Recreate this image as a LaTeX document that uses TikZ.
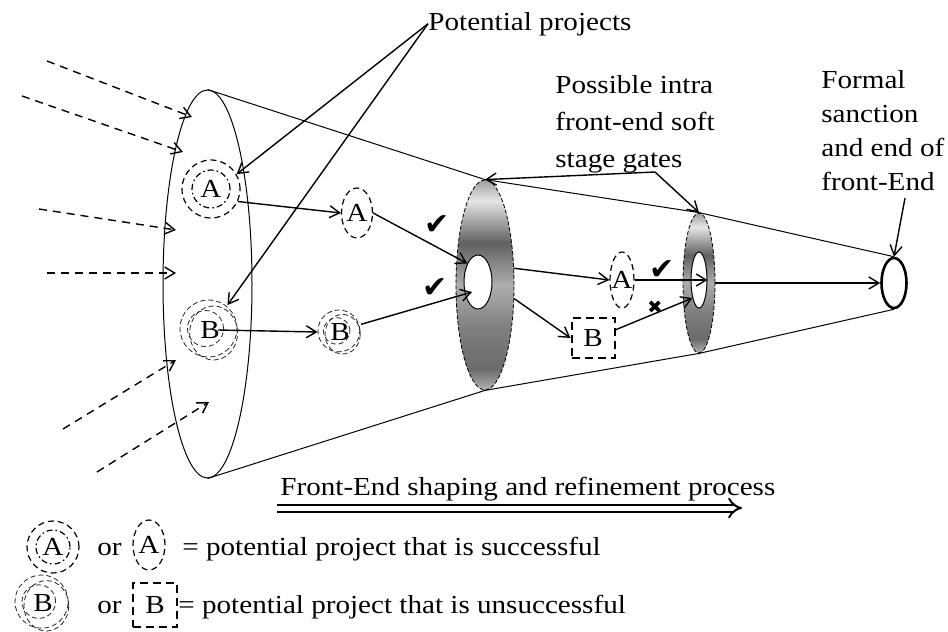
\documentclass[tikz,border=0pt]{standalone}
\usepackage{fontspec}
\setmainfont{Liberation Serif}[FakeStretch=1.12]
\newfontfamily\tickfont{DejaVu Sans}
\usetikzlibrary{arrows.meta, positioning, shapes.geometric, calc}

% shading of the soft stage gates (25bp..75bp is the shaded path)
\pgfdeclareverticalshading{gateshade}{100bp}{color(0bp)=(black!30); color(25bp)=(black!30); color(30bp)=(black!58); color(40bp)=(black!50); color(50bp)=(black!32); color(60bp)=(black!62); color(70bp)=(black!10); color(75bp)=(black!38); color(100bp)=(black!38)}

\begin{document}
\begin{tikzpicture}[x=0.5pt, y=-0.5pt,
  font=\fontsize{13}{17}\selectfont,
  arr/.style={-{Straight Barb[length=5pt,width=6pt]}, line width=0.7pt},
  inarr/.style={arr, dash pattern=on 4pt off 3pt},
  txt/.style={inner sep=0pt, anchor=base west},
  proj/.style={ellipse, draw, line width=0.6pt, inner sep=0pt, dash pattern=on 3pt off 2pt},
  dashdot/.style={line width=0.6pt, dash pattern=on 3pt off 1.5pt on 0.8pt off 1.5pt},
  fuzz/.style={line width=0.4pt, black!85, dash pattern=on 2.5pt off 1.5pt},
  gate/.style={ellipse, draw, shade, shading=gateshade, line width=0.4pt, dash pattern=on 2pt off 1pt, inner sep=0pt},
  hole/.style={ellipse, draw, fill=white, line width=0.5pt, inner sep=0pt},
  tick/.style={font=\tickfont\fontsize{15}{15}\selectfont, inner sep=0pt}
]
  \useasboundingbox (0,0) rectangle (948,632);

  % Funnel: mouth, gates and end
  \node[ellipse, draw, line width=0.5pt, minimum width=44.5pt, minimum height=194pt, inner sep=0pt] (mouth) at (207.5,284) {};
  \node[gate, minimum width=29pt, minimum height=105pt] (ring1) at (485,285) {};
  \node[hole, minimum width=14pt, minimum height=27pt] (hole1) at (478,282) {};
  \node[gate, minimum width=16pt, minimum height=70pt] (ring2) at (699,283) {};
  \node[hole, minimum width=8pt, minimum height=28pt] (hole2) at (699,280) {};
  \node[ellipse, draw, line width=1.3pt, minimum width=12.5pt, minimum height=25pt, inner sep=0pt] (endgate) at (894,283) {};

  \draw[line width=0.5pt] (mouth.north) -- (ring1.north) -- (ring2.north) -- (endgate.north);
  \draw[line width=0.5pt] (mouth.south) -- (ring1.south) -- (ring2.south) -- (endgate.south);

  % Incoming ideas
  \foreach \i/\sx/\sy/\ex/\ey in {1/47/61/192/117, 2/22/96/183/152, 3/39/209/176/230,
                                  4/47/273/176/273, 5/63/429/176/360, 6/97/472/209/402} {
    \coordinate (src\i) at (\sx,\sy);
    \coordinate (dst\i) at (\ex,\ey);
    \draw[inarr] (src\i) -- (dst\i);
  }

  % Potential projects
  \node[proj, circle, minimum size=29pt, label=center:A] (a1) at (211,189) {};
  \node[proj, minimum width=15.5pt, minimum height=25pt, label=center:A] (a2) at (357,213) {};
  \node[proj, minimum width=12pt, minimum height=28pt, label=center:A] (a3) at (622,280) {};
  \node[circle, minimum size=30pt, inner sep=0pt, label=center:B] (b1) at (210,330) {};
  \node[circle, minimum size=22pt, inner sep=0pt, label=center:B] (b2) at (340,332) {};
  \node[draw, line width=1pt, dash pattern=on 4pt off 2.5pt, minimum width=21.5pt, minimum height=20pt, label=center:B] (b3) at (593,338) {};

  % Legend symbols
  \node[proj, circle, minimum size=26pt, label=center:A] (lega) at (53,547) {};
  \node[proj, minimum width=16pt, minimum height=25pt, label=center:A] (legaa) at (149,545) {};
  \node[circle, minimum size=28pt, inner sep=0pt, label=center:B] (legb) at (43,603) {};
  \node[draw, line width=1pt, dash pattern=on 4pt off 2.5pt, minimum size=22pt, label=center:B] (legbb) at (155,605) {};

  \foreach \n/\r in {a1/9.5pt, lega/8.5pt}
    \draw[dashdot] (\n.center) circle [radius=\r];
  \foreach \n/\r in {b1/15pt, b2/11pt, legb/14pt} {
    \draw[fuzz] ([shift={(-0.05*\r,0.05*\r)}]\n.center) circle [radius=0.95*\r];
    \draw[fuzz] ([shift={(0.12*\r,-0.1*\r)}]\n.center) circle [x radius=0.8*\r, y radius=0.9*\r];
    \draw[fuzz] ([shift={(-0.15*\r,0.05*\r)}]\n.center) circle [radius=0.6*\r];
  }

  % Labels
  \node[txt] (pp) at (428,30) {Potential projects};
  \node[inner sep=0pt, anchor=north west, align=left, font=\fontsize{13}{18.5}\selectfont] (gates) at (555,75) {Possible intra\\front-end soft\\stage gates};
  \node[inner sep=0pt, anchor=north west, align=left, font=\fontsize{13}{17}\selectfont] (formal) at (821,70) {Formal\\sanction\\and end of\\front-End};
  \node[txt] (proc) at (280,495) {Front-End shaping and refinement process};
  \node[txt] (or1) at (97,555) {or};
  \node[txt] (or2) at (97,613) {or};
  \node[txt] (succ) at (182,555) {= potential project that is successful};
  \node[txt] (unsucc) at (178,613) {= potential project that is unsuccessful};

  % Ticks and cross
  \node[tick] (ok1) at (437,225) {✔};
  \node[tick] (ok2) at (435,288) {✔};
  \node[tick] (ok3) at (662,270) {✔};
  \node[tick, font=\tickfont\fontsize{9}{9}\selectfont] (nok) at (655,307) {✖};

  % Arrows between projects and gates
  \draw[arr] (pp.west) -- (a1.30);
  \draw[arr] (pp.west) -- (b1.55);
  \draw[arr] (a1.-25) -- (a2.west);
  \draw[arr] ([xshift=4pt]b1.center) -- (b2.west);
  \draw[arr] (a2.east) -- (hole1.120);
  \draw[arr] (b2.20) -- ([xshift=-3pt,yshift=-5pt]hole1.center);
  \draw[arr] (ring1.30) -- (a3.west);
  \draw[arr] (ring1.-25) -- (b3.west);
  \draw[arr] (a3.east) -- (hole2.east);
  \draw[arr] (b3.20) -- (hole2.250);
  \draw[arr] (ring2.east) -- (endgate.west);

  % Pointers from the labels
  \coordinate (gatesfoot) at (655,172);
  \coordinate (formalfoot) at (905,198);
  \draw[arr] (gatesfoot) -- (ring1.north);
  \draw[arr] (gatesfoot) -- (ring2.north);
  \draw[arr] (formalfoot) -- (endgate.north);

  % Process arrow
  \coordinate (procL) at (277,508);
  \coordinate (procR) at (742,508);
  \draw[double, double distance=2.5pt, line width=1pt, -{Implies}] (procL) -- (procR);
\end{tikzpicture}
\end{document}
